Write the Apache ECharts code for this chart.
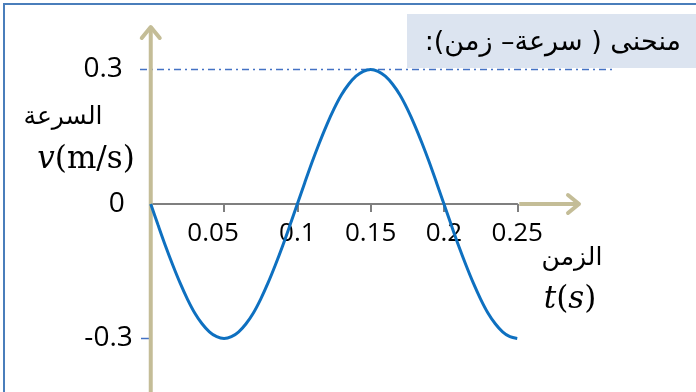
<!DOCTYPE html>
<html>
<head>
<meta charset="utf-8">
<script src="https://cdn.jsdelivr.net/npm/echarts@6/dist/echarts.min.js"></script>
<style>
  html, body { margin: 0; padding: 0; background: #fff; }
  #chart { width: 696px; height: 392px; }
</style>
</head>
<body>
<div id="chart"></div>
<script>
// Time samples (s) and speed readings (m/s) along the curve
const timeS = [0, 0.005, 0.01, 0.015, 0.02, 0.025, 0.03, 0.035, 0.04, 0.045,
               0.05, 0.055, 0.06, 0.065, 0.07, 0.075, 0.08, 0.085, 0.09, 0.095,
               0.1, 0.105, 0.11, 0.115, 0.12, 0.125, 0.13, 0.135, 0.14, 0.145,
               0.15, 0.155, 0.16, 0.165, 0.17, 0.175, 0.18, 0.185, 0.19, 0.195,
               0.2, 0.205, 0.21, 0.215, 0.22, 0.225, 0.23, 0.235, 0.24, 0.245, 0.25];
const speedMs = [0, -0.047, -0.093, -0.136, -0.176, -0.212, -0.243, -0.267, -0.285, -0.296,
                 -0.3, -0.296, -0.285, -0.267, -0.243, -0.212, -0.176, -0.136, -0.093, -0.047,
                 0, 0.047, 0.093, 0.136, 0.176, 0.212, 0.243, 0.267, 0.285, 0.296,
                 0.3, 0.296, 0.285, 0.267, 0.243, 0.212, 0.176, 0.136, 0.093, 0.047,
                 0, -0.047, -0.093, -0.136, -0.176, -0.212, -0.243, -0.267, -0.285, -0.296, -0.3];
const xTicks = [0.05, 0.1, 0.15, 0.2, 0.25];
const yTicks = [-0.3, 0, 0.3];
const titleText = 'منحنى ( سرعة– زمن):';
const yNameAr = 'السرعة';
const xNameAr = 'الزمن';

const AXIS_BEIGE = '#c4bd97';
const LINE_BLUE = '#0e70c0';
const NUM_FONT = '"Open Sans", Lato, sans-serif';
const AR_FONT = '"DejaVu Sans", sans-serif';

const GRID = { left: 150.75, right: 178.75, top: 69.5, bottom: 53.5 };
const plotH = 392 - GRID.top - GRID.bottom;

const chart = echarts.init(document.getElementById('chart'), null, { renderer: 'canvas' });

chart.setOption({
  animation: false,
  backgroundColor: '#fff',
  grid: GRID,
  xAxis: {
    type: 'value', min: 0, max: 0.25, interval: 0.05,
    position: 'bottom',
    // lift the axis from the bottom edge to the zero level (middle of the -0.3..0.3 range)
    offset: -plotH / 2,
    axisLine: { show: true, onZero: false, lineStyle: { color: '#7f7f7f', width: 2 } },
    axisTick: { show: true, length: 8, lineStyle: { color: '#7f7f7f', width: 2 } },
    splitLine: { show: false },
    axisLabel: {
      margin: 17, color: '#000', fontSize: 26, fontFamily: NUM_FONT,
      formatter: v => {
        const r = Math.round(v * 100) / 100;
        if (!xTicks.includes(r)) return '';
        return r === 0.05 ? '{s|' + r + '}' : String(r);
      },
      rich: { s: { fontSize: 26, fontFamily: NUM_FONT, color: '#000', padding: [0, 22, 0, 0] } }
    }
  },
  yAxis: {
    type: 'value', min: -0.3, max: 0.3, interval: 0.3,
    axisLine: { show: false }, axisTick: { show: false }, splitLine: { show: false },
    axisLabel: {
      margin: 18, color: '#000', fontSize: 28, fontFamily: NUM_FONT,
      formatter: v => {
        const r = Math.round(v * 10) / 10;
        if (!yTicks.includes(r)) return '';
        if (r === 0.3) return '{a|0.3}';
        if (r === 0) return '{b|0}';
        return '{c|-0.3}';
      },
      rich: {
        a: { fontSize: 28, fontFamily: NUM_FONT, color: '#000', padding: [0, 10, 0, 0] },
        b: { fontSize: 28, fontFamily: NUM_FONT, color: '#000', padding: [0, 8, 0, 0] },
        c: { fontSize: 28, fontFamily: NUM_FONT, color: '#000' }
      }
    }
  },
  series: [{
    type: 'line',
    data: timeS.map((t, i) => [t, speedMs[i]]),
    smooth: 0.3,
    showSymbol: false,
    lineStyle: { color: LINE_BLUE, width: 3 },
    z: 5
  }]
});

// Decorations placed from the axis scales
const p0 = chart.convertToPixel({ gridIndex: 0 }, [0, 0]);
const pTop = chart.convertToPixel({ gridIndex: 0 }, [0, 0.3]);
const pBot = chart.convertToPixel({ gridIndex: 0 }, [0, -0.3]);
const pEnd = chart.convertToPixel({ gridIndex: 0 }, [0.25, 0]);
const ax = p0[0], ay = p0[1];

chart.setOption({
  graphic: [
    // outer frame
    { type: 'rect', shape: { x: 4, y: 4, width: 800, height: 500 },
      style: { fill: 'none', stroke: '#4a7ebb', lineWidth: 2 }, z: 1 },
    // title box (right-to-left embedding for the Arabic heading)
    { type: 'rect', shape: { x: 407, y: 14, width: 300, height: 54 },
      style: { fill: '#dce4f0' }, z: 2 },
    { type: 'text', x: 681, y: 43, z: 3,
      style: { text: '\u202B' + titleText + '\u202C', font: '27px ' + AR_FONT, fill: '#000',
               align: 'right', verticalAlign: 'middle' } },
    // dash-dot guide at the peak value
    { type: 'line', shape: { x1: 140, y1: pTop[1], x2: 616, y2: pTop[1] }, z: 3,
      style: { stroke: '#4472c4', lineWidth: 1.5, lineDash: [7, 4, 2, 4] } },
    // small tick at the lowest value
    { type: 'line', shape: { x1: 141, y1: pBot[1], x2: ax - 1, y2: pBot[1] }, z: 3,
      style: { stroke: '#4472c4', lineWidth: 1.5 } },
    // vertical axis with arrow
    { type: 'line', shape: { x1: ax, y1: 392, x2: ax, y2: 28 }, z: 4,
      style: { stroke: AXIS_BEIGE, lineWidth: 4 } },
    { type: 'polyline', shape: { points: [[ax - 9, 38], [ax, 27], [ax + 9, 38]] }, z: 4,
      style: { stroke: AXIS_BEIGE, lineWidth: 4, fill: 'none', lineCap: 'round', lineJoin: 'round' } },
    // horizontal axis extension with arrow
    { type: 'line', shape: { x1: pEnd[0] + 2, y1: ay, x2: 578, y2: ay }, z: 4,
      style: { stroke: AXIS_BEIGE, lineWidth: 4 } },
    { type: 'polyline', shape: { points: [[568, ay - 9], [579, ay], [568, ay + 9]] }, z: 4,
      style: { stroke: AXIS_BEIGE, lineWidth: 4, fill: 'none', lineCap: 'round', lineJoin: 'round' } },
    // axis names
    { type: 'text', x: 63, y: 117, z: 3,
      style: { text: yNameAr, font: '25px ' + AR_FONT, fill: '#000', align: 'center', verticalAlign: 'middle' } },
    { type: 'text', x: 86, y: 160, z: 3,
      style: {
        text: '{i|v}{n|(m/s)}', align: 'center', verticalAlign: 'middle',
        rich: {
          i: { font: 'italic 31px "DejaVu Serif", serif', fill: '#000' },
          n: { font: '31px "DejaVu Serif", serif', fill: '#000' }
        }
      } },
    { type: 'text', x: 572, y: 258, z: 3,
      style: { text: xNameAr, font: '25px ' + AR_FONT, fill: '#000', align: 'center', verticalAlign: 'middle' } },
    { type: 'text', x: 570, y: 300, z: 3,
      style: {
        text: '{i|t}{n|(}{i|s}{n|)}', align: 'center', verticalAlign: 'middle',
        rich: {
          i: { font: 'italic 31px "DejaVu Serif", serif', fill: '#000' },
          n: { font: '31px "DejaVu Serif", serif', fill: '#000' }
        }
      } }
  ]
});
</script>
</body>
</html>
